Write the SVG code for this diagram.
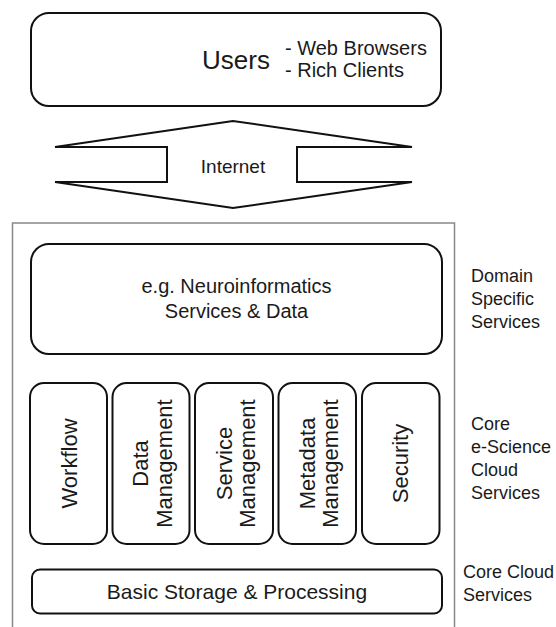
<svg xmlns="http://www.w3.org/2000/svg" width="556" height="627" viewBox="0 0 556 627">
<style>
text{font-family:"Liberation Sans",Arial,sans-serif;fill:#1a1a1a}
.box{fill:#fff;stroke:#111;stroke-width:2}
.outer{fill:#fff;stroke:#888;stroke-width:1.5}
.m{text-anchor:middle}
.v{font-size:22px;text-anchor:middle}
.lbl{font-size:18px}
</style>
<rect width="556" height="627" fill="#fff"/>
<g id="cloud-frame"><rect class="outer" x="12.5" y="223" width="442" height="410"/></g>
<g id="users">
<rect class="box" x="31" y="13" width="410" height="93" rx="18"/>
<text x="202" y="69" font-size="26">Users</text>
<text x="285" y="55" font-size="20">- Web Browsers</text>
<text x="285" y="77" font-size="20">- Rich Clients</text>
</g>
<g id="internet">
<path class="box" stroke-linejoin="miter" d="M233,121 L55,147 L167,147 L167,182 L55,182 L233,208 L412,182 L297,182 L297,147 L412,147 Z"/>
<text class="m" x="233" y="173" font-size="19">Internet</text>
</g>
<g id="domain">
<rect class="box" x="31" y="244" width="411" height="110" rx="18"/>
<text class="m" x="236.5" y="293" font-size="20">e.g. Neuroinformatics</text>
<text class="m" x="236.5" y="318" font-size="20">Services &amp; Data</text>
</g>
<g id="workflow">
<rect class="box" x="30" y="383" width="77" height="161" rx="14"/>
<text class="v" transform="translate(68.5,463.5) rotate(-90)" x="0" y="8.5">Workflow</text>
</g>
<g id="data-management">
<rect class="box" x="112.5" y="383" width="77" height="161" rx="14"/>
<text class="v" transform="translate(151,463.5) rotate(-90)" x="0" y="-3">Data</text>
<text class="v" transform="translate(151,463.5) rotate(-90)" x="0" y="20.5">Management</text>
</g>
<g id="service-management">
<rect class="box" x="195" y="383" width="78" height="161" rx="14"/>
<text class="v" transform="translate(234,463.5) rotate(-90)" x="0" y="-2.5">Service</text>
<text class="v" transform="translate(234,463.5) rotate(-90)" x="0" y="20.5">Management</text>
</g>
<g id="metadata-management">
<rect class="box" x="278.5" y="383" width="77.5" height="161" rx="14"/>
<text class="v" transform="translate(317,463.5) rotate(-90)" x="0" y="-2.5">Metadata</text>
<text class="v" transform="translate(317,463.5) rotate(-90)" x="0" y="20.5">Management</text>
</g>
<g id="security">
<rect class="box" x="362" y="383" width="77.5" height="161" rx="14"/>
<text class="v" transform="translate(400.5,463.5) rotate(-90)" x="0" y="7">Security</text>
</g>
<g id="basic-storage">
<rect class="box" x="32" y="569.5" width="410" height="44" rx="8"/>
<text class="m" x="237" y="599" font-size="21">Basic Storage &amp; Processing</text>
</g>
<g id="layer-labels" class="lbl">
<text x="471" y="282">Domain</text>
<text x="471" y="305">Specific</text>
<text x="471" y="328">Services</text>
<text x="471" y="430">Core</text>
<text x="471" y="453">e-Science</text>
<text x="471" y="476">Cloud</text>
<text x="471" y="499">Services</text>
<text x="463" y="578">Core Cloud</text>
<text x="463" y="601">Services</text>
</g>
</svg>
